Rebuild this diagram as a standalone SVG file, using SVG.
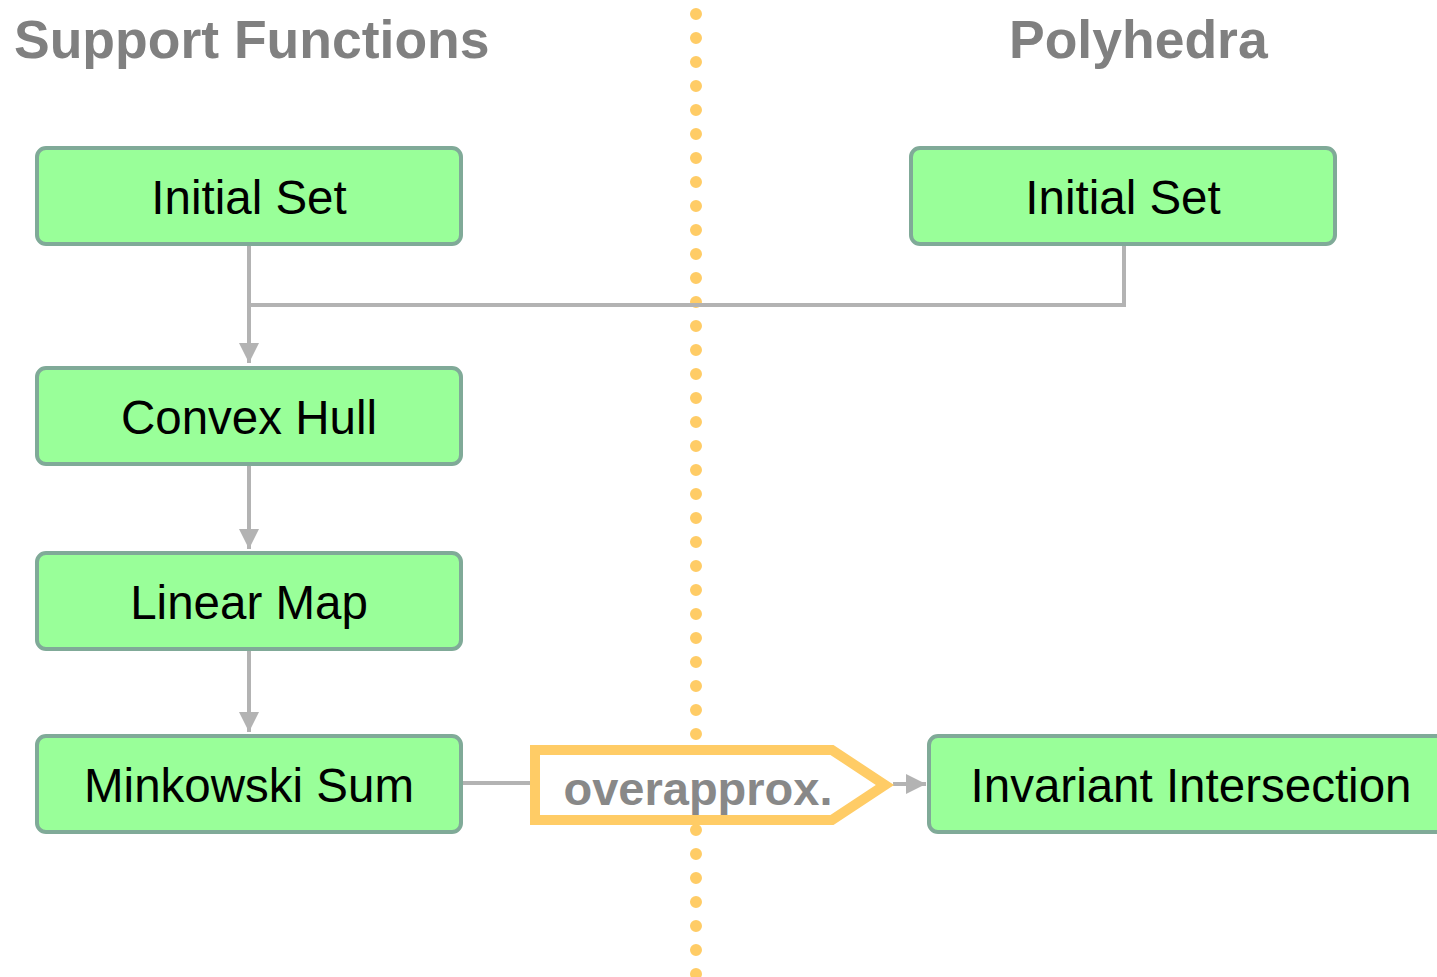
<svg xmlns="http://www.w3.org/2000/svg" width="1437" height="977" viewBox="0 0 1437 977">
  <style>
    .title { font-family: "Liberation Sans", Arial, sans-serif; font-weight: bold; font-size: 53.5px; fill: #808080; }
    .node rect { fill: #99ff99; stroke: #80aa98; stroke-width: 4; }
    .node text { font-family: "Liberation Sans", Arial, sans-serif; font-size: 47.5px; fill: #000; text-anchor: middle; }
    .edge { fill: none; stroke: #b3b3b3; stroke-width: 4; }
    .divider { fill: none; stroke: #ffcc66; stroke-width: 12; stroke-linecap: round; stroke-dasharray: 0 24; }
    .approx { fill: #fff; stroke: #ffcc66; stroke-width: 10; }
    .approx-label { font-family: "Liberation Sans", Arial, sans-serif; font-weight: bold; font-size: 47px; fill: #888888; text-anchor: middle; }
  </style>
  <defs>
    <marker id="arrow" viewBox="0 0 10 10" refX="10" refY="5" markerWidth="5" markerHeight="5" markerUnits="strokeWidth" orient="auto">
      <path d="M0,0 L10,5 L0,10 z" fill="#b3b3b3"/>
    </marker>
  </defs>

  <rect width="1437" height="977" fill="#ffffff"/>

  <!-- column headings -->
  <text class="title" x="14" y="58">Support Functions</text>
  <text class="title" x="1009" y="58">Polyhedra</text>

  <!-- dotted divider between the two columns -->
  <line class="divider" x1="696" y1="14" x2="696" y2="990"/>

  <!-- connectors -->
  <g id="connectors">
    <path class="edge" d="M249,246 V363" marker-end="url(#arrow)"/>
    <path class="edge" d="M1124,246 V305 H249"/>
    <path class="edge" d="M249,466 V549" marker-end="url(#arrow)"/>
    <path class="edge" d="M249,651 V732" marker-end="url(#arrow)"/>
    <path class="edge" d="M463,783 H531"/>
    <path class="edge" d="M893,784 H926" marker-end="url(#arrow)"/>
  </g>

  <!-- overapproximation step -->
  <g id="overapprox">
    <path class="approx" d="M535,750 H832 L885,785 L832,820 H535 Z"/>
    <text class="approx-label" x="698" y="805">overapprox.</text>
  </g>

  <!-- support-function pipeline -->
  <g id="sf-initial" class="node">
    <rect x="37" y="148" width="424" height="96" rx="9"/>
    <text x="249" y="214">Initial Set</text>
  </g>
  <g id="sf-convex-hull" class="node">
    <rect x="37" y="368" width="424" height="96" rx="9"/>
    <text x="249" y="434">Convex Hull</text>
  </g>
  <g id="sf-linear-map" class="node">
    <rect x="37" y="553" width="424" height="96" rx="9"/>
    <text x="249" y="619">Linear Map</text>
  </g>
  <g id="sf-minkowski" class="node">
    <rect x="37" y="736" width="424" height="96" rx="9"/>
    <text x="249" y="802">Minkowski Sum</text>
  </g>

  <!-- polyhedra pipeline -->
  <g id="poly-initial" class="node">
    <rect x="911" y="148" width="424" height="96" rx="9"/>
    <text x="1123" y="214">Initial Set</text>
  </g>
  <g id="poly-invariant" class="node">
    <rect x="929" y="736" width="540" height="96" rx="9"/>
    <text x="1191" y="802">Invariant Intersection</text>
  </g>
</svg>
